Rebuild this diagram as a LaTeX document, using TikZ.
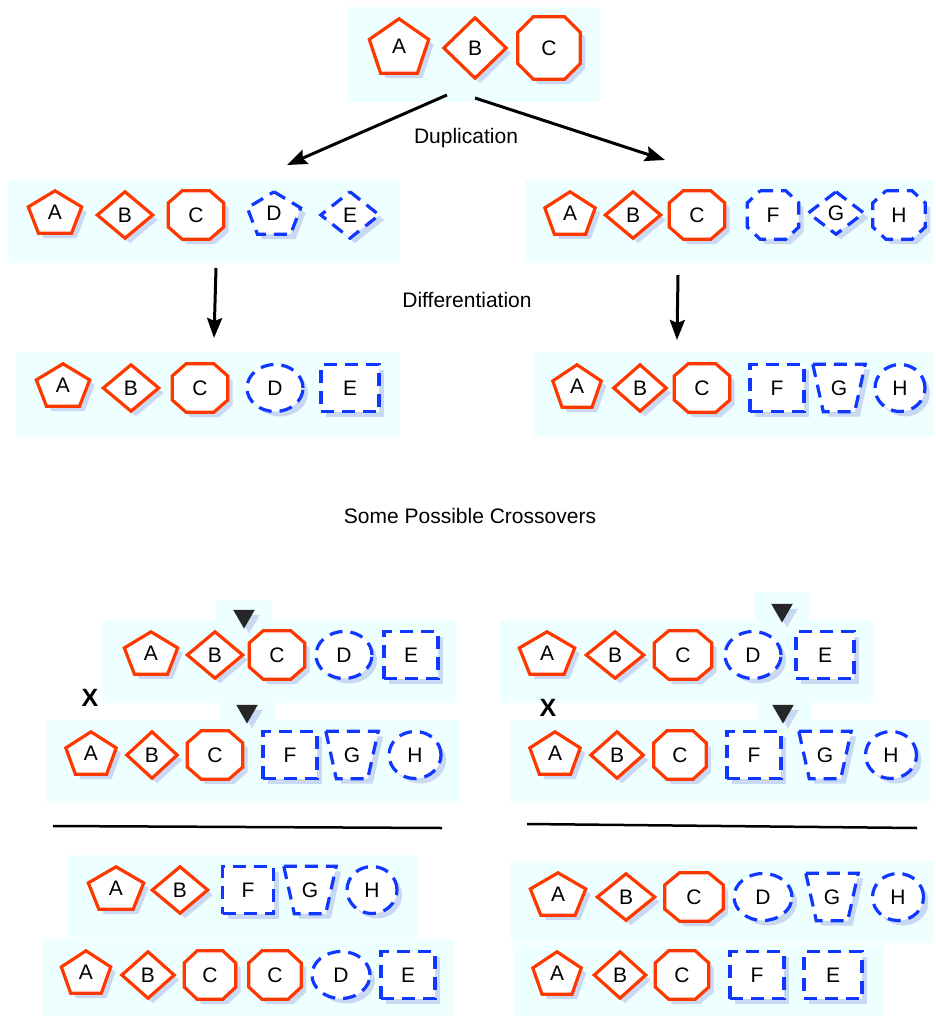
\documentclass[tikz,border=0pt]{standalone}
\usepackage{fontspec}
\setmainfont{Liberation Sans}
\usetikzlibrary{
    arrows.meta,
    calc,
    shapes.geometric,
    shadows
}
\definecolor{oldred}{RGB}{255, 56, 0}
\definecolor{newblue}{RGB}{15, 55, 255}
\definecolor{panelcyan}{RGB}{238, 255, 255}

\begin{document}
\begin{tikzpicture}[x=1pt, y=-1pt,
                panel/.style={fill=panelcyan},
                heading/.style={font=\fontsize{21}{24}\selectfont},
                arrow/.style={-{Stealth[length=20pt, width=15pt, inset=3pt]}, line width=3pt},
                soft/.style={drop shadow={shadow xshift=5pt, shadow yshift=-5pt, opacity=0.15, fill=blue!70!black}},
                old/.style={draw=oldred, line width=3.2pt, fill=white, soft},
                new/.style={draw=newblue, line width=3.2pt, dash pattern=on 13pt off 8pt, fill=white, soft},
                gene/.style={inner sep=0pt, font=\fontsize{21}{23}\selectfont},
                pent/.style={gene, minimum width=53pt, minimum height=42pt, text height=3ex, text depth=0pt,
                    append after command={\pgfextra{\let\genenode\tikzlastnode
                        \path[#1] (\genenode.north) -- ($(\genenode.north east)!.38!(\genenode.south east)$)
                            -- ($(\genenode.south east)!.19!(\genenode.south west)$) -- ($(\genenode.south west)!.19!(\genenode.south east)$)
                            -- ($(\genenode.north west)!.38!(\genenode.south west)$) -- cycle;}}},
                diam/.style={gene, minimum width=55pt, minimum height=46pt,
                    append after command={\pgfextra{\let\genenode\tikzlastnode
                        \path[#1] (\genenode.north) -- (\genenode.east) -- (\genenode.south) -- (\genenode.west) -- cycle;}}},
                oct/.style={gene, minimum width=55pt, minimum height=48pt,
                    append after command={\pgfextra{\let\genenode\tikzlastnode
                        \path[#1] ($(\genenode.north west)!.25!(\genenode.north east)$) -- ($(\genenode.north west)!.75!(\genenode.north east)$)
                            -- ($(\genenode.north east)!.25!(\genenode.south east)$) -- ($(\genenode.north east)!.75!(\genenode.south east)$)
                            -- ($(\genenode.south east)!.25!(\genenode.south west)$) -- ($(\genenode.south east)!.75!(\genenode.south west)$)
                            -- ($(\genenode.south west)!.25!(\genenode.north west)$) -- ($(\genenode.south west)!.75!(\genenode.north west)$) -- cycle;}}},
                trap/.style={gene, minimum width=52pt, minimum height=47pt,
                    append after command={\pgfextra{\let\genenode\tikzlastnode
                        \path[#1] (\genenode.north west) -- (\genenode.north east)
                            -- ($(\genenode.south east)!.2!(\genenode.south west)$) -- ($(\genenode.south west)!.2!(\genenode.south east)$) -- cycle;}}},
                oval/.style={gene, ellipse, minimum width=56pt, minimum height=47pt, #1},
                box/.style={gene, rectangle, minimum width=54pt, minimum height=47pt, #1},
                cutmark/.style={regular polygon, regular polygon sides=3, shape border rotate=180, inner sep=0pt,
                    minimum size=25pt, fill=black!85, soft}
            ]
                \useasboundingbox (0,0) rectangle (935,1016);

                % Panels
                \fill[panel] (348,7) rectangle (600,102);
                \fill[panel] (8,180) rectangle (400,263);
                \fill[panel] (525,180) rectangle (933,263);
                \fill[panel] (16,352) rectangle (400,437);
                \fill[panel] (533,352) rectangle (933,437);
                \fill[panel] (216,600) rectangle (272,620);
                \fill[panel] (103,620) rectangle (456,703);
                \fill[panel] (220,693) rectangle (275,720);
                \fill[panel] (47,720) rectangle (459,803);
                \fill[panel] (755,592) rectangle (810,620);
                \fill[panel] (500,620) rectangle (873,703);
                \fill[panel] (757,693) rectangle (811,745);
                \fill[panel] (511,720) rectangle (930,803);
                \fill[panel] (68,855) rectangle (417,938);
                \fill[panel] (43,939) rectangle (453,1016);
                \fill[panel] (511,861) rectangle (933,943);
                \fill[panel] (513,945) rectangle (883,1016);

                % Ancestral genome
                \node[pent=old, minimum width=59pt, minimum height=54pt] (anc-a) at (399,46) {A};
                \node[diam=old, minimum width=62pt, minimum height=60pt] (anc-b) at (475,48) {B};
                \node[oct=old, minimum width=62pt, minimum height=62pt] (anc-c) at (549,48) {C};

                % Duplication
                \node[pent=old] (dl-a) at (55,212) {A};
                \node[diam=old] (dl-b) at (125,215) {B};
                \node[oct=old] (dl-c) at (196,215) {C};
                \node[pent=new] (dl-d) at (274,213) {D};
                \node[diam=new, minimum width=58pt] (dl-e) at (350,215) {E};

                \node[pent=old, minimum width=50pt] (dr-a) at (570,213) {A};
                \node[diam=old] (dr-b) at (633,215) {B};
                \node[oct=old] (dr-c) at (697,215) {C};
                \node[oct=new, minimum width=51pt] (dr-f) at (773,215) {F};
                \node[diam=new, minimum height=42pt] (dr-g) at (836,213) {G};
                \node[oct=new, minimum width=52pt] (dr-h) at (899,215) {H};

                % Differentiation
                \node[pent=old] (fl-a) at (63,385) {A};
                \node[diam=old] (fl-b) at (131,388) {B};
                \node[oct=old] (fl-c) at (200,388) {C};
                \node[oval=new] (fl-d) at (275,388) {D};
                \node[box=new, minimum width=58pt] (fl-e) at (350,388) {E};

                \node[pent=old, minimum width=48pt] (fr-a) at (577,386) {A};
                \node[diam=old, minimum width=52pt] (fr-b) at (640,388) {B};
                \node[oct=old] (fr-c) at (702,388) {C};
                \node[box=new] (fr-f) at (777,388) {F};
                \node[trap=new] (fr-g) at (839,388) {G};
                \node[oval=new, minimum width=50pt] (fr-h) at (900,388) {H};

                \coordinate (dup-l0) at (447,95);
                \coordinate (dup-l1) at (287,165);
                \coordinate (dup-r0) at (475,98);
                \coordinate (dup-r1) at (665,160);
                \coordinate (dif-l0) at (216,268);
                \coordinate (dif-l1) at (214,338);
                \coordinate (dif-r0) at (678,275);
                \coordinate (dif-r1) at (677,340);

                \draw[arrow] (dup-l0) -- (dup-l1);
                \draw[arrow] (dup-r0) -- (dup-r1);
                \draw[arrow] (dif-l0) -- (dif-l1);
                \draw[arrow] (dif-r0) -- (dif-r1);

                \node[heading] (lbl-dup) at (466,138) {Duplication};
                \node[heading] (lbl-dif) at (467,300) {Differentiation};
                \node[heading] (lbl-cross) at (470,516) {Some Possible Crossovers};

                % Crossover, left pair
                \node[cutmark] (xl-top) at (244,616) {};
                \node[pent=old] (xl1-a) at (151,653) {A};
                \node[diam=old] (xl1-b) at (215,655) {B};
                \node[oct=old] (xl1-c) at (277,655) {C};
                \node[oval=new] (xl1-d) at (344,655) {D};
                \node[box=new] (xl1-e) at (411,655) {E};
                \node[font=\fontsize{25}{25}\selectfont\bfseries] (xl-x) at (90,698) {X};
                \node[cutmark] (xl-bot) at (247,711) {};
                \node[pent=old, minimum width=50pt] (xl2-a) at (91,753) {A};
                \node[diam=old, minimum width=50pt] (xl2-b) at (152,755) {B};
                \node[oct=old] (xl2-c) at (215,755) {C};
                \node[box=new] (xl2-f) at (290,755) {F};
                \node[trap=new] (xl2-g) at (352,755) {G};
                \node[oval=new, minimum width=52pt] (xl2-h) at (415,755) {H};

                % Crossover, right pair
                \node[cutmark] (xr-top) at (782,610) {};
                \node[pent=old, minimum width=55pt] (xr1-a) at (547,653) {A};
                \node[diam=old, minimum width=57pt] (xr1-b) at (615,655) {B};
                \node[oct=old, minimum width=57pt] (xr1-c) at (683,655) {C};
                \node[oval=new] (xr1-d) at (753,655) {D};
                \node[box=new, minimum width=58pt] (xr1-e) at (825,655) {E};
                \node[font=\fontsize{25}{25}\selectfont\bfseries] (xr-x) at (548,708) {X};
                \node[cutmark] (xr-bot) at (783,711) {};
                \node[pent=old, minimum width=50pt] (xr2-a) at (555,753) {A};
                \node[diam=old, minimum width=52pt] (xr2-b) at (617,755) {B};
                \node[oct=old, minimum width=52pt] (xr2-c) at (680,755) {C};
                \node[box=new] (xr2-f) at (754,755) {F};
                \node[trap=new] (xr2-g) at (825,755) {G};
                \node[oval=new, minimum width=51pt] (xr2-h) at (891,755) {H};

                \coordinate (rule-l0) at (53,826);
                \coordinate (rule-l1) at (442,828);
                \coordinate (rule-r0) at (527,824);
                \coordinate (rule-r1) at (917,828);
                \draw[line width=2.5pt] (rule-l0) -- (rule-l1);
                \draw[line width=2.5pt] (rule-r0) -- (rule-r1);

                % Offspring, left
                \node[pent=old, minimum width=55pt] (ol1-a) at (116,888) {A};
                \node[diam=old] (ol1-b) at (180,890) {B};
                \node[box=new, minimum width=51pt] (ol1-f) at (248,890) {F};
                \node[trap=new] (ol1-g) at (310,890) {G};
                \node[oval=new, minimum width=50pt] (ol1-h) at (372,890) {H};

                \node[pent=old, minimum width=49pt] (ol2-a) at (86,972) {A};
                \node[diam=old, minimum width=52pt] (ol2-b) at (148,975) {B};
                \node[oct=old, minimum width=51pt] (ol2-c) at (210,975) {C};
                \node[oct=old, minimum width=52pt] (ol2-c2) at (275,975) {C};
                \node[oval=new, minimum width=58pt] (ol2-d) at (341,975) {D};
                \node[box=new] (ol2-e) at (408,975) {E};

                % Offspring, right
                \node[pent=old, minimum width=55pt] (or1-a) at (558,894) {A};
                \node[diam=old, minimum width=57pt] (or1-b) at (626,897) {B};
                \node[oct=old, minimum width=58pt] (or1-c) at (694,897) {C};
                \node[oval=new, minimum width=58pt] (or1-d) at (763,897) {D};
                \node[trap=new] (or1-g) at (832,897) {G};
                \node[oval=new, minimum width=51pt] (or1-h) at (898,897) {H};

                \node[pent=old, minimum width=48pt] (or2-a) at (557,973) {A};
                \node[diam=old, minimum width=51pt] (or2-b) at (620,975) {B};
                \node[oct=old, minimum width=53pt] (or2-c) at (682,975) {C};
                \node[box=new] (or2-f) at (757,975) {F};
                \node[box=new, minimum width=58pt] (or2-e) at (833,975) {E};
            \end{tikzpicture}
\end{document}
